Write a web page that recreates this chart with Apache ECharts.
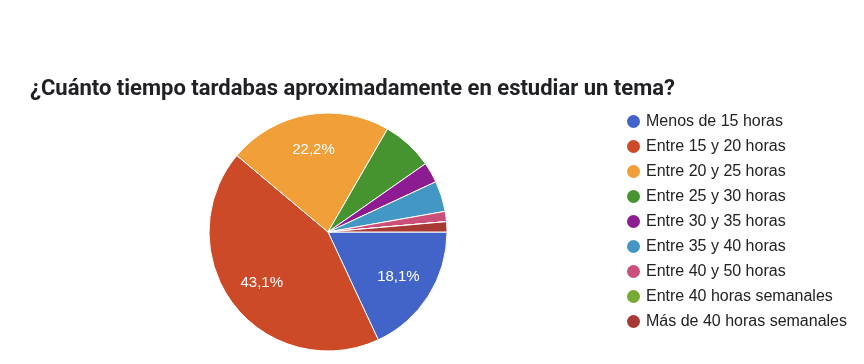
<!DOCTYPE html>
<html>
<head>
<meta charset="utf-8">
<script src="https://cdn.jsdelivr.net/npm/echarts@6/dist/echarts.min.js"></script>
<style>html,body{margin:0;padding:0;background:#fff;}#c{width:864px;height:364px;}</style>
</head>
<body>
<div id="c"></div>
<script>
var titleText = '¿Cuánto tiempo tardabas aproximadamente en estudiar un tema?';
var categories = ['Menos de 15 horas','Entre 15 y 20 horas','Entre 20 y 25 horas','Entre 25 y 30 horas','Entre 30 y 35 horas','Entre 35 y 40 horas','Entre 40 y 50 horas','Entre 40 horas semanales','Más de 40 horas semanales'];
var values = [13, 31, 16, 5, 2, 3, 1, 0, 1];
var colors = ['#4264c8','#cc4a27','#f19f38','#45942f','#8d1b92','#4397c4','#cb5079','#77aa35','#a73a35'];

var total = values.reduce(function(a, b){ return a + b; }, 0);
var data = categories.map(function(c, i){ return {name: c, value: values[i]}; });
function fmt(p){
  var pct = p.value / total * 100;
  if (pct < 10) return '';
  return pct.toFixed(1).replace('.', ',') + '%';
}
var chart = echarts.init(document.getElementById('c'), null, {renderer: 'canvas'});
chart.setOption({
  animation: false,
  color: colors,
  title: {
    text: titleText, left: 25, top: 73,
    textStyle: {fontFamily: 'Roboto', fontWeight: 'bold', fontSize: 22, color: '#202124'}
  },
  legend: {
    orient: 'vertical', left: 620, top: 108,
    icon: 'circle', itemWidth: 15, itemHeight: 15, itemGap: 8,
    data: categories,
    textStyle: {fontFamily: 'Liberation Sans, Arial', fontSize: 16, color: '#222', lineHeight: 17}
  },
  series: [{
    type: 'pie', center: [328, 232], radius: [0, 119],
    startAngle: 0, clockwise: true,
    data: data, label: {show: false}, labelLine: {show: false},
    itemStyle: {borderColor: '#fff', borderWidth: 1},
    emphasis: {disabled: true}, silent: true
  }, {
    type: 'pie', center: [328, 232], radius: [42, 119],
    startAngle: 0, clockwise: true,
    data: data, legendHoverLink: false, silent: true,
    itemStyle: {color: 'rgba(0,0,0,0)', borderWidth: 0},
    label: {show: true, position: 'inside', formatter: fmt,
      fontFamily: 'Liberation Sans, Arial', fontSize: 15, color: '#fff'},
    labelLine: {show: false}, emphasis: {disabled: true}
  }]
});
</script>
</body>
</html>
